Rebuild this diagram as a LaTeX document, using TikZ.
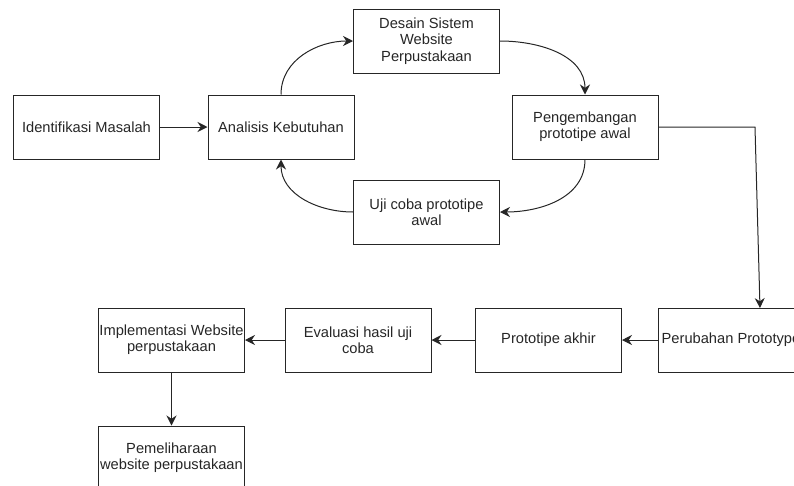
\documentclass[tikz,border=0pt]{standalone}
\usepackage{fontspec}
\setmainfont{Liberation Sans}
\usepackage{tikz}
\usetikzlibrary{arrows.meta}

\begin{document}
\begin{tikzpicture}[x=0.75pt, y=-0.75pt,
    box/.style={draw=black!85, line width=0.75pt, minimum width=109.5pt, minimum height=48pt,
        inner sep=0pt, align=center, text=black!85, font=\fontsize{11}{12.2}\selectfont},
    >={Stealth[length=7.5pt, width=7.5pt, inset=2.5pt]}]
        \useasboundingbox (0,0) rectangle (794,486);
        \node[box] (n1) at (86.5,127) {Identifikasi Masalah};
        \node[box] (n2) at (281,127) {Analisis Kebutuhan};
        \node[box] (n3) at (426.5,41) {Desain Sistem\\Website\\Perpustakaan};
        \node[box] (n4) at (585,127) {Pengembangan\\prototipe awal};
        \node[box] (n5) at (426.5,212) {Uji coba prototipe\\awal};
        \node[box] (n6) at (731,340) {Perubahan Prototype};
        \node[box] (n7) at (548.5,340) {Prototipe akhir};
        \node[box] (n8) at (358,340) {Evaluasi hasil uji\\coba};
        \node[box] (n9) at (171.5,340) {Implementasi Website\\perpustakaan};
        \node[box] (n10) at (171.5,458) {Pemeliharaan\\website perpustakaan};
        \coordinate (b1) at (755,127);
        \coordinate (b2) at (760,308);
        \draw[->, line width=0.75pt, black!85] (n1) -- (n2);
        \draw[->, line width=0.75pt, black!85] (n2.north) to[out=90, in=180] (n3.west);
        \draw[->, line width=0.75pt, black!85] (n3.east) to[out=0, in=90] (n4.north);
        \draw[->, line width=0.75pt, black!85] (n4.south) to[out=-90, in=0] (n5.east);
        \draw[->, line width=0.75pt, black!85] (n5.west) to[out=180, in=-90] (n2.south);
        \draw[->, line width=0.75pt, black!85] (n4.east) -- (b1) -- (b2);
        \draw[->, line width=0.75pt, black!85] (n6) -- (n7);
        \draw[->, line width=0.75pt, black!85] (n7) -- (n8);
        \draw[->, line width=0.75pt, black!85] (n8) -- (n9);
        \draw[->, line width=0.75pt, black!85] (n9) -- (n10);
    \end{tikzpicture}
\end{document}
